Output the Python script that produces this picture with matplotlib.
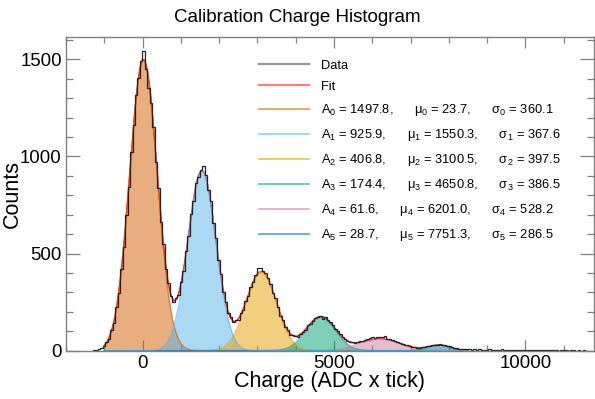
import numpy as np
import matplotlib
matplotlib.use("Agg")
import matplotlib.pyplot as plt
from matplotlib.lines import Line2D
from matplotlib.ticker import MultipleLocator

plt.rcParams['font.family'] = ['Liberation Sans', 'DejaVu Sans']
plt.rcParams['mathtext.fontset'] = 'custom'
plt.rcParams['mathtext.rm'] = 'Liberation Sans'
plt.rcParams['mathtext.it'] = 'Liberation Sans:italic'

# ---------------- data ----------------
bin_start = -1302.5
bin_width = 65.0
counts = [
    2, 4, 7, 16, 23, 44, 61, 104, 143, 224,
    298, 420, 535, 698, 842, 1024, 1160, 1318, 1404, 1492,
    1540, 1448, 1352, 1274, 1150, 972, 838, 661, 549, 418,
    350, 279, 250, 270, 286, 352, 411, 515, 588, 702,
    768, 861, 893, 931, 950, 902, 826, 768, 655, 580,
    466, 394, 301, 252, 193, 173, 147, 156, 160, 192,
    210, 258, 281, 330, 352, 390, 424, 427, 412, 398,
    372, 345, 296, 270, 226, 180, 158, 121, 104, 83,
    80, 76, 73, 88, 98, 105, 130, 137, 152, 166,
    176, 178, 163, 171, 160, 148, 132, 110, 100, 84,
    70, 60, 48, 46, 43, 42, 45, 48, 52, 56,
    58, 64, 70, 66, 72, 73, 70, 74, 62, 60,
    55, 52, 46, 42, 36, 31, 27, 22, 20, 17,
    14, 16, 17, 20, 22, 25, 27, 30, 28, 33,
    30, 28, 26, 22, 17, 14, 12, 10, 11, 9,
    8, 7, 6, 8, 5, 7, 6, 4, 6, 7,
    5, 4, 6, 5, 7, 4, 5, 3, 5, 6,
    4, 3, 5, 4, 3, 4, 5, 3, 2, 4,
    3, 2, 3, 4, 2, 3, 2, 1, 3, 2,
    2, 1, 2, 3, 1, 2, 1, 2, 1, 1,
]
amplitudes = [1497.8, 925.9, 406.8, 174.4, 61.6, 28.7]
means = [23.7, 1550.3, 3100.5, 4650.8, 6201.0, 7751.3]
sigmas = [360.1, 367.6, 397.5, 386.5, 528.2, 286.5]
fit_range = (-1000, 8500)
colors = ['#D55E00', '#56B4E9', '#E69F00', '#009E73', '#CC79A7', '#0072B2']

title = 'Calibration Charge Histogram'
xlabel = 'Charge (ADC x tick)'
ylabel = 'Counts'

# ---------------- figure ----------------
fig = plt.figure(figsize=(5.95, 3.99), dpi=100)
ax = fig.add_axes([66/595, (399-350.7)/399, (593.5-66)/595, (350.7-37.3)/399])

counts = np.array(counts, dtype=float)
edges = bin_start + bin_width * np.arange(len(counts) + 1)

xf = np.linspace(fit_range[0], fit_range[1], 800)
comps = [a * np.exp(-0.5 * ((xf - m) / s) ** 2) for a, m, s in zip(amplitudes, means, sigmas)]

ax.plot(xf, np.sum(comps, axis=0), color='red', lw=1.1, alpha=0.9, zorder=2)
for k, (g, c) in enumerate(zip(comps, colors)):
    ax.fill_between(xf, 0, g, color=c, alpha=0.5, lw=0, zorder=3)
    ax.plot(xf, g, color=c, lw=1.0, alpha=0.6, zorder=5 if k == 1 else 4)

ax.stairs(counts, edges, color='#222222', lw=0.9, zorder=6)

ax.set_xlim(-2000, 11780)
ax.set_ylim(0, 1613)

ax.xaxis.set_major_locator(MultipleLocator(5000))
ax.xaxis.set_minor_locator(MultipleLocator(1000))
ax.yaxis.set_major_locator(MultipleLocator(500))
ax.yaxis.set_minor_locator(MultipleLocator(100))
ax.tick_params(which='both', direction='in', top=True, right=True,
               color='#808080', width=0.9, labelsize=13.4, pad=3)
ax.tick_params(axis='x', which='major', length=8)
ax.tick_params(axis='x', which='minor', length=4)
ax.tick_params(axis='y', which='major', length=10)
ax.tick_params(axis='y', which='minor', length=5)
for sp in ax.spines.values():
    sp.set_color('#808080')
    sp.set_linewidth(1.0)
    sp.set_zorder(7)

ax.set_xlabel(xlabel, fontsize=15.5)
ax.set_ylabel(ylabel, fontsize=15.5)
ax.yaxis.set_label_coords(-0.082, 0.5)
ax.xaxis.set_label_coords(0.5, -0.065)

fig.text(0.5, 1 - 18/399, title, ha='center', va='center', fontsize=13.5)

handles = [Line2D([], [], color='#999999', lw=1.6),
           Line2D([], [], color='#ff8080', lw=1.6)]
labels = ['Data', 'Fit']
for k, (a, m, s, c) in enumerate(zip(amplitudes, means, sigmas, colors)):
    handles.append(Line2D([], [], color=c, lw=1.3, alpha=0.6))
    labels.append(f"A$_{k}$ = {a:.1f},      \u03bc$_{k}$ = {m:.1f},      \u03c3$_{k}$ = {s:.1f}")
leg = ax.legend(handles, labels, loc='upper left', bbox_to_anchor=(0.3655, 0.928),
                frameon=False, fontsize=9.3, handlelength=3.9, handletextpad=0.9,
                labelspacing=0.7, borderpad=0, borderaxespad=0)
leg.set_zorder(8)

fig.savefig('out.png', dpi=100)
